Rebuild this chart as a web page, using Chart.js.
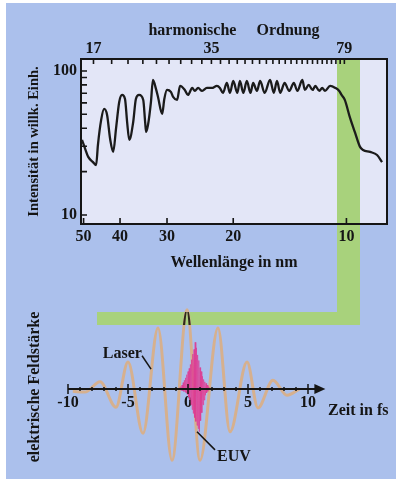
<!DOCTYPE html>
<html>
<head>
<meta charset="utf-8">
<script src="https://cdn.jsdelivr.net/npm/chart.js@4.4.0/dist/chart.umd.min.js"></script>
<style>
  html, body { margin: 0; padding: 0; background: #fff; }
  #panel { position: absolute; left: 6px; top: 3px; width: 390px; height: 476px; background: #abc0ec; }
  #spectrum { position: absolute; left: 0; top: 0; }
  #pulse { position: absolute; left: 0; top: 275px; }
</style>
</head>
<body>
<div id="panel"></div>
<canvas id="spectrum" width="396" height="275"></canvas>
<canvas id="pulse" width="396" height="204"></canvas>
<script>
// Spectrum: wavelength (nm) and intensity (arb. units, log axis)
const wavelengthNm = [
  50.5, 49.5, 48.6, 47.2, 46.3, 45.8, 44.9, 44.1, 43.3, 42.5, 41.7, 41.0, 40.2, 39.5, 38.8, 38.3,
  37.8, 36.9, 36.3, 35.6, 34.7, 34.3, 34.1, 33.7, 33.1, 32.7, 32.1, 31.7, 30.9, 30.5, 30.0, 29.3,
  28.9, 28.2, 27.7, 26.9, 26.4, 25.7, 25.3, 24.8, 24.2, 23.5, 22.8, 22.1, 21.7, 21.3, 20.8, 20.4,
  20.0, 19.5, 19.2, 18.8, 18.4, 18.0, 17.7, 17.3, 16.96, 16.5, 15.96, 15.6, 15.3, 15.0, 14.6, 14.2,
  13.8, 13.5, 13.1, 12.9, 12.6, 12.3, 12.1, 11.8, 11.6, 11.4, 11.05, 10.7, 10.45, 10.3, 10.1, 9.78,
  9.48, 9.20, 9.03, 8.65, 8.29, 8.04
];
const intensity = [
  33.2, 28.7, 25.3, 23.3, 22.2, 30.6, 45.7, 54.5, 49.5, 33.7, 27.4, 39.6, 60.9, 68.1, 63.9, 44.2,
  33.2, 44.2, 63.9, 68.1, 62.9, 44.2, 37.7, 42.2, 60.9, 86.6, 75.0, 66.0, 50.3, 63.9, 73.8, 71.5,
  66.0, 62.9, 78.7, 73.8, 68.1, 76.2, 72.6, 76.2, 72.6, 76.2, 76.2, 78.7, 76.2, 70.4, 82.5, 70.4,
  85.2, 70.4, 85.2, 70.4, 85.2, 70.4, 82.5, 72.6, 85.2, 70.4, 86.6, 70.4, 85.2, 70.4, 82.5, 72.6,
  82.5, 72.6, 86.6, 73.8, 80.0, 73.8, 78.7, 72.6, 76.2, 72.6, 78.7, 76.2, 72.6, 68.1, 62.9, 47.2,
  37.1, 29.7, 28.3, 27.4, 26.1, 23.3
];
const wavelengthTicks = [50, 40, 30, 20, 10];
const intensityTicks = [10, 20, 30, 40, 50, 60, 70, 80, 90, 100];
const intensityLabels = [10, 100];
const harmonicOrders = [17, 19, 21, 23, 25, 27, 29, 31, 33, 35, 37, 39, 41, 43, 45, 47,
  49, 51, 53, 55, 57, 59, 61, 63, 65, 67, 69, 71, 73, 75, 77, 79];
const harmonicLabels = [17, 35, 79];
const fundamentalNm = 800;

// Pulse: time (fs) and field (arb. units)
const laserTime = [-9.6, -8.6, -7.33, -6.0, -5.0, -3.75, -2.5, -1.33, -0.08, 1.0, 2.5, 3.5, 4.92, 5.83, 7.08, 8.25, 9.3];
const laserField = [-0.03, -0.04, 0.09, -0.23, 0.34, -0.56, 0.77, -0.9, 1.0, -0.9, 0.77, -0.54, 0.34, -0.24, 0.11, -0.08, 0.0];
const euvTime = [
  -0.70, -0.65, -0.60, -0.55, -0.50, -0.45, -0.40, -0.35, -0.30, -0.25, -0.20, -0.15, -0.10, -0.05,
  0.00, 0.05, 0.10, 0.15, 0.20, 0.25, 0.30, 0.35, 0.40, 0.45, 0.50, 0.55, 0.60, 0.65, 0.70, 0.75,
  0.80, 0.85, 0.90, 0.95, 1.00, 1.05, 1.10, 1.15, 1.20, 1.25, 1.30, 1.35, 1.40, 1.45, 1.50, 1.55,
  1.60, 1.65, 1.70, 1.75, 1.80
];
const euvField = [
  0.02, -0.01, 0.03, -0.02, 0.05, -0.02, 0.08, -0.03, 0.11, -0.04, 0.14, -0.05, 0.18, -0.07,
  0.22, -0.10, 0.26, -0.14, 0.31, -0.20, 0.37, -0.26, 0.44, -0.31, 0.50, -0.36, 0.59, -0.41, 0.52, -0.46,
  0.43, -0.50, 0.36, -0.54, 0.27, -0.40, 0.22, -0.30, 0.16, -0.20, 0.12, -0.14, 0.09, -0.08, 0.07, -0.05,
  0.05, -0.03, 0.03, -0.01, 0.02
];

const PLOT_BG = '#e3e6f7';
const GREEN = '#a8d27c';
const INK = '#151515';
// green highlight, page pixels
const band = { left: 337, right: 360, bottom: 325, barLeft: 97, barTop: 312 };
const PULSE_TOP = 275;

Chart.defaults.font.family = "'Liberation Serif', 'DejaVu Serif', serif";
Chart.defaults.font.weight = 'bold';
Chart.defaults.font.size = 16;
Chart.defaults.color = INK;

function pts(xs, ys) {
  return xs.map((x, i) => ({ x: x, y: ys[i] }));
}

const spectrumFrame = {
  id: 'spectrumFrame',
  beforeDraw(chart) {
    const { ctx, chartArea: a } = chart;
    ctx.save();
    ctx.fillStyle = PLOT_BG;
    ctx.fillRect(a.left, a.top, a.width, a.height);
    ctx.fillStyle = GREEN;
    ctx.fillRect(band.left, a.top, band.right - band.left, chart.height - a.top);
    ctx.restore();
  },
  afterDraw(chart) {
    const { ctx, chartArea: a, scales } = chart;
    ctx.save();
    ctx.strokeStyle = INK;
    ctx.lineWidth = 1.6;
    ctx.beginPath();
    scales.x.ticks.forEach((t) => {
      const px = scales.x.getPixelForValue(t.value);
      ctx.moveTo(px, a.bottom); ctx.lineTo(px, a.bottom - 6);
    });
    scales.x2.ticks.forEach((t) => {
      const px = scales.x2.getPixelForValue(t.value);
      ctx.moveTo(px, a.top); ctx.lineTo(px, a.top + 5);
    });
    scales.y.ticks.forEach((t) => {
      const py = scales.y.getPixelForValue(t.value);
      ctx.moveTo(a.left, py); ctx.lineTo(a.left + 6, py);
    });
    ctx.stroke();
    ctx.lineWidth = 2;
    ctx.strokeRect(a.left, a.top, a.width, a.height);
    ctx.restore();
  }
};

new Chart(document.getElementById('spectrum'), {
  type: 'line',
  data: {
    datasets: [{
      data: pts(wavelengthNm, intensity),
      borderColor: '#1b1b1b',
      borderWidth: 2.3,
      pointRadius: 0,
      cubicInterpolationMode: 'monotone',
      fill: false
    }]
  },
  options: {
    responsive: false,
    animation: false,
    events: [],
    layout: { padding: { left: 0, right: 9, top: 0, bottom: 0 } },
    plugins: { legend: { display: false }, tooltip: { enabled: false } },
    scales: {
      x: {
        type: 'logarithmic', position: 'bottom', reverse: true, min: 7.8, max: 50.8,
        grid: { display: false, drawTicks: false }, border: { display: false },
        afterBuildTicks: (s) => { s.ticks = wavelengthTicks.map((v) => ({ value: v })); },
        afterFit: (s) => { s.height = 51; },
        ticks: { padding: 3, autoSkip: false, maxRotation: 0, callback: (v) => String(v) },
        title: { display: true, text: 'Wellenlänge in nm', padding: { top: 0, bottom: 3 } }
      },
      x2: {
        type: 'logarithmic', position: 'top', reverse: true, min: 7.8, max: 50.8,
        grid: { display: false, drawTicks: false }, border: { display: false },
        afterBuildTicks: (s) => { s.ticks = harmonicOrders.map((q) => ({ value: fundamentalNm / q })); },
        afterFit: (s) => { s.height = 59; },
        ticks: {
          padding: 1, autoSkip: false, maxRotation: 0,
          callback: (v, i) => harmonicLabels.includes(harmonicOrders[i]) ? String(harmonicOrders[i]) : ''
        },
        title: { display: true, text: 'harmonische     Ordnung', padding: { top: 21, bottom: 0 } }
      },
      y: {
        type: 'logarithmic', min: 8.66, max: 121,
        grid: { display: false, drawTicks: false }, border: { display: false },
        afterBuildTicks: (s) => { s.ticks = intensityTicks.map((v) => ({ value: v })); },
        afterFit: (s) => { s.width = 81; },
        ticks: { padding: 4, autoSkip: false, callback: (v) => intensityLabels.includes(v) ? String(v) : '' },
        title: { display: true, text: 'Intensität in willk. Einh.', font: { size: 14.5 }, padding: { top: 26 } }
      }
    }
  },
  plugins: [spectrumFrame]
});

const notes = [
  { text: 'Laser', t: -7.1, f: 0.44, from: [-3.83, 0.42], to: [-3.08, 0.25] },
  { text: 'EUV', t: 2.42, f: -0.86, from: [0.75, -0.54], to: [2.25, -0.77] }
];

const pulseDecor = {
  id: 'pulseDecor',
  beforeDraw(chart) {
    const ctx = chart.ctx;
    ctx.save();
    ctx.fillStyle = GREEN;
    ctx.fillRect(band.left, 0, band.right - band.left, band.bottom - PULSE_TOP);
    ctx.fillRect(band.barLeft, band.barTop - PULSE_TOP, band.right - band.barLeft, band.bottom - band.barTop);
    ctx.restore();
  },
  beforeDatasetDraw(chart, args) {
    if (chart.data.datasets[args.index].label !== 'LaserOnGreen') return;
    const ctx = chart.ctx;
    ctx.save();
    ctx.beginPath();
    ctx.rect(band.barLeft, band.barTop - PULSE_TOP, band.right - band.barLeft, band.bottom - band.barTop);
    ctx.clip();
  },
  afterDatasetDraw(chart, args) {
    if (chart.data.datasets[args.index].label !== 'LaserOnGreen') return;
    chart.ctx.restore();
  },
  afterDatasetsDraw(chart) {
    const { ctx, scales: { x, y } } = chart;
    const y0 = y.getPixelForValue(0);
    const tip = x.getPixelForValue(11.45);
    ctx.save();
    ctx.strokeStyle = INK;
    ctx.fillStyle = INK;
    ctx.lineWidth = 2;
    ctx.beginPath();
    ctx.moveTo(x.getPixelForValue(-10), y0);
    ctx.lineTo(tip - 6, y0);
    ctx.stroke();
    ctx.lineWidth = 1.5;
    ctx.beginPath();
    x.ticks.forEach((t) => {
      if (Math.abs(t.value) > 10) return;
      const px = x.getPixelForValue(t.value);
      const h = t.value % 5 === 0 ? 5 : 2;
      ctx.moveTo(px, y0 - h); ctx.lineTo(px, y0 + h);
    });
    ctx.stroke();
    ctx.beginPath();
    ctx.moveTo(tip, y0);
    ctx.lineTo(tip - 11, y0 - 5);
    ctx.lineTo(tip - 11, y0 + 5);
    ctx.closePath();
    ctx.fill();
    ctx.restore();
  },
  afterDraw(chart) {
    const { ctx, scales: { x, y } } = chart;
    ctx.save();
    ctx.fillStyle = INK;
    ctx.strokeStyle = INK;
    ctx.lineWidth = 1.5;
    ctx.font = "bold 16px 'Liberation Serif', serif";
    ctx.textBaseline = 'middle';
    ctx.textAlign = 'left';
    notes.forEach((n) => {
      ctx.fillText(n.text, x.getPixelForValue(n.t), y.getPixelForValue(n.f));
      ctx.beginPath();
      ctx.moveTo(x.getPixelForValue(n.from[0]), y.getPixelForValue(n.from[1]));
      ctx.lineTo(x.getPixelForValue(n.to[0]), y.getPixelForValue(n.to[1]));
      ctx.stroke();
    });
    ctx.fillText('Zeit in fs', 328, 411 - PULSE_TOP);
    ctx.translate(35, 387 - PULSE_TOP);
    ctx.rotate(-Math.PI / 2);
    ctx.textAlign = 'center';
    ctx.fillText('elektrische Feldstärke', 0, 0);
    ctx.restore();
  }
};

new Chart(document.getElementById('pulse'), {
  type: 'line',
  data: {
    datasets: [
      {
        label: 'EUV', data: pts(euvTime, euvField),
        borderColor: '#dc3c92', borderWidth: 0.7, backgroundColor: 'rgba(242, 122, 188, 0.92)',
        fill: 'origin', pointRadius: 0, tension: 0
      },
      {
        label: 'LaserOnGreen', data: pts(laserTime, laserField),
        borderColor: '#2e2a1c', borderWidth: 2.4, pointRadius: 0, cubicInterpolationMode: 'monotone', fill: false
      },
      {
        label: 'Laser', data: pts(laserTime, laserField),
        borderColor: '#d6b08e', borderWidth: 3, pointRadius: 0, cubicInterpolationMode: 'monotone', fill: false
      }
    ]
  },
  options: {
    responsive: false,
    animation: false,
    events: [],
    layout: { padding: { left: 56, right: 64, top: 19, bottom: 3 } },
    plugins: { legend: { display: false }, tooltip: { enabled: false } },
    scales: {
      x: {
        type: 'linear', min: -11, max: 12, position: { y: 0 },
        grid: { display: false, drawTicks: false }, border: { display: false },
        ticks: {
          stepSize: 1, autoSkip: false, maxRotation: 0, padding: 4,
          callback: (v) => (v % 5 === 0 && Math.abs(v) <= 10) ? String(v) : ''
        }
      },
      y: { type: 'linear', min: -1.1, max: 1.2, display: false }
    }
  },
  plugins: [pulseDecor]
});
</script>
</body>
</html>
